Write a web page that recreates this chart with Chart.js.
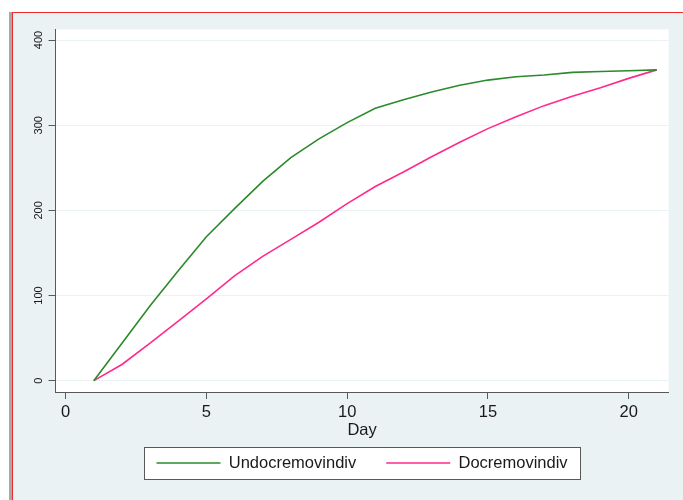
<!DOCTYPE html>
<html>
<head>
<meta charset="utf-8">
<script src="https://cdn.jsdelivr.net/npm/chart.js@4"></script>
<style>
  html, body { margin: 0; padding: 0; background: #fff; }
  #strip { position: absolute; left: 9px; top: 12px; width: 3px; height: 488px; background: #a8a8a8; }
  #frame { position: absolute; left: 12px; top: 12px; width: 671px; height: 488px; box-sizing: border-box;
           border-left: 1px solid #ee2b2b; border-top: 1px solid #ee2b2b; background: #eaf2f3; }
  #frame canvas { display: block; }
</style>
</head>
<body>
<div id="strip"></div>
<div id="frame"><canvas id="dayChart" width="670" height="487"></canvas></div>
<script>
// values
const days = [1, 2, 3, 4, 5, 6, 7, 8, 9, 10, 11, 12, 13, 14, 15, 16, 17, 18, 19, 20, 21];
const undocremovindiv = [0, 44, 88, 129, 169, 202, 234, 262, 284, 303, 320, 330, 339, 347, 353, 357, 359, 362, 363, 364, 365];
const docremovindiv = [0, 19, 44, 70, 96, 123, 146, 166, 186, 208, 228, 245, 263, 280, 296, 310, 323, 334, 344, 355, 365];
const xTicks = [0, 5, 10, 15, 20];
const yTicks = [0, 100, 200, 300, 400];

const FONT = '"Liberation Sans", Arial, sans-serif';
const AXIS = '#595959';
const TEXT = '#1a1a1a';

// white plot region + boxed legend (Stata look)
const stataBg = {
  id: 'stataBg',
  beforeDraw(chart) {
    const { ctx, chartArea: a, legend } = chart;
    ctx.save();
    ctx.fillStyle = '#fff';
    ctx.fillRect(a.left, a.top, a.right - a.left, a.bottom - a.top);
    const hb = legend && legend.legendHitBoxes;
    if (hb && hb.length) {
      const first = hb[0], last = hb[hb.length - 1];
      const cy = first.top + first.height / 2;
      const x0 = Math.round(first.left - 12.75) + 0.5;
      const x1 = Math.round(last.left + last.width + 12.75) + 0.5;
      const y0 = Math.round(cy - 16) + 0.5;
      ctx.fillRect(x0, y0, x1 - x0, 32);
      ctx.strokeStyle = AXIS;
      ctx.lineWidth = 1;
      ctx.strokeRect(x0, y0, x1 - x0, 32);
    }
    ctx.restore();
  }
};

const ctx = document.getElementById('dayChart').getContext('2d');
const dayChart = new Chart(ctx, {
  type: 'line',
  data: {
    datasets: [{
      label: 'Undocremovindiv',
      data: days.map((d, i) => ({ x: d, y: undocremovindiv[i] })),
      borderColor: '#2b8a2b',
      backgroundColor: '#2b8a2b',
      borderWidth: 1.6,
      pointRadius: 0,
      tension: 0,
      fill: false
    }, {
      label: 'Docremovindiv',
      data: days.map((d, i) => ({ x: d, y: docremovindiv[i] })),
      borderColor: '#ff2a8c',
      backgroundColor: '#ff2a8c',
      borderWidth: 1.6,
      pointRadius: 0,
      tension: 0,
      fill: false
    }]
  },
  options: {
    responsive: false,
    animation: false,
    layout: { padding: { top: 16.5, left: 0, right: 14.4, bottom: 18.75 } },
    plugins: {
      tooltip: { enabled: false },
      legend: {
        position: 'bottom',
        fullSize: false,
        labels: {
          usePointStyle: true,
          pointStyle: 'line',
          pointStyleWidth: 64,
          padding: 30,
          color: TEXT,
          font: { family: FONT, size: 16.5 }
        }
      }
    },
    scales: {
      x: {
        type: 'linear',
        min: -0.36,
        max: 21.42,
        afterBuildTicks: s => { s.ticks = xTicks.map(v => ({ value: v })); },
        afterFit: s => { s.height = 32.75; },
        grid: { drawOnChartArea: false, drawTicks: true, tickLength: 7, tickColor: AXIS, tickWidth: 1 },
        border: { display: true, color: AXIS, width: 1 },
        ticks: { color: TEXT, padding: 4, maxRotation: 0, autoSkip: false, font: { family: FONT, size: 16.5 } },
        title: { display: true, text: 'Day', color: TEXT, padding: { top: 0, bottom: -15.45 }, font: { family: FONT, size: 16.5 } }
      },
      y: {
        min: -13.3,
        max: 412.4,
        afterBuildTicks: s => { s.ticks = yTicks.map(v => ({ value: v })); },
        afterFit: s => { s.width = 42.5; },
        grid: { color: '#eaf2f3', lineWidth: 1, drawTicks: true, tickLength: 7, tickColor: AXIS, tickWidth: 1 },
        border: { display: true, color: AXIS, width: 1 },
        ticks: { color: TEXT, padding: 0, minRotation: 90, maxRotation: 90, crossAlign: 'center', autoSkip: false,
                 font: { family: FONT, size: 11 } }
      }
    }
  },
  plugins: [stataBg]
});
</script>
</body>
</html>
